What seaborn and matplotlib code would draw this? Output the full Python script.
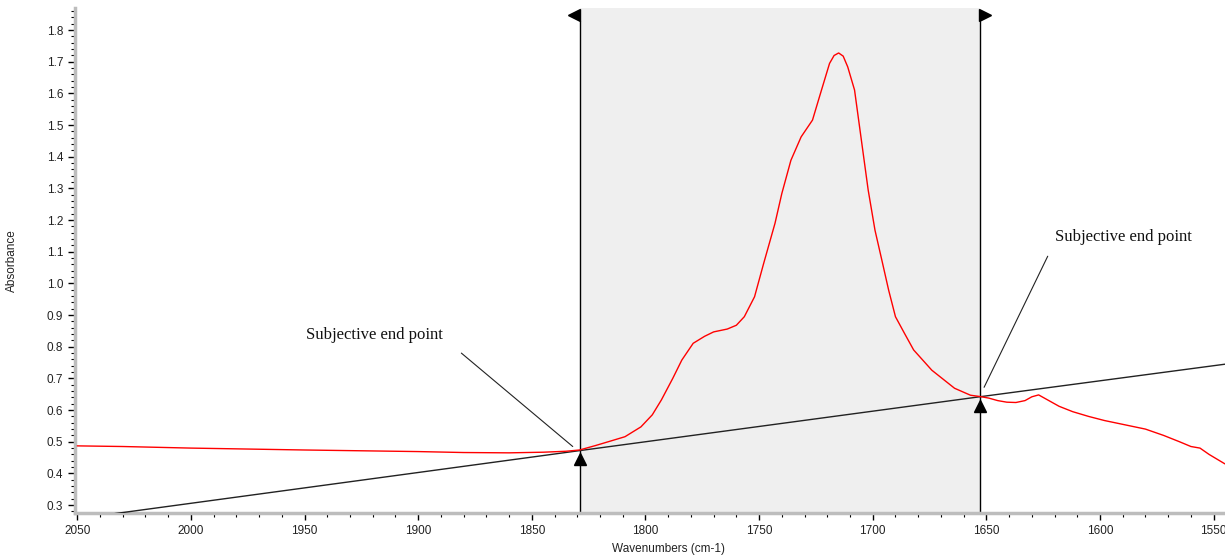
import matplotlib
matplotlib.use("Agg")
import matplotlib.pyplot as plt
from matplotlib.ticker import MultipleLocator, FormatStrFormatter
import seaborn as sns
import numpy as np
import pandas as pd

# red spectrum (wavenumber, absorbance)
wavenumber = [2050, 2030, 2000, 1950, 1900, 1880, 1860, 1845, 1835, 1829,
              1822, 1815, 1809, 1802, 1797, 1793, 1788, 1784, 1779, 1774,
              1770, 1764, 1760, 1756.5, 1752, 1748, 1743, 1740, 1736, 1731.5,
              1726.5, 1723, 1719, 1717, 1715, 1713, 1711, 1708, 1705, 1702,
              1699, 1696, 1693, 1690, 1686, 1682, 1674, 1664, 1657, 1653,
              1649, 1645, 1641, 1637, 1633, 1630, 1627, 1623, 1618,
              1612, 1605, 1598, 1590, 1580, 1572, 1565, 1560, 1556, 1552, 1545]
absorbance = [0.487, 0.485, 0.480, 0.474, 0.469, 0.466, 0.465, 0.467, 0.470, 0.474,
              0.488, 0.503, 0.516, 0.547, 0.585, 0.632, 0.700, 0.758, 0.811, 0.833,
              0.847, 0.856, 0.868, 0.895, 0.958, 1.063, 1.190, 1.284, 1.389, 1.463,
              1.516, 1.600, 1.695, 1.720, 1.728, 1.718, 1.684, 1.611, 1.453, 1.295,
              1.168, 1.074, 0.979, 0.895, 0.842, 0.790, 0.726, 0.669, 0.647, 0.643,
              0.638, 0.630, 0.625, 0.624, 0.630, 0.642, 0.648, 0.632, 0.612,
              0.595, 0.580, 0.567, 0.555, 0.540, 0.520, 0.500, 0.485, 0.480, 0.460, 0.430]

# baseline through the two end points
baseline_wn = [2050, 1829, 1653, 1545]
baseline_abs = [0.257, 0.472, 0.642, 0.745]

region = (1829, 1653)
end_points = [(1829, 0.472), (1653, 0.642)]
labels = ["Subjective end point", "Subjective end point"]
label_pos = [(1949.5, 0.837), (1620, 1.146)]
pointer_from = [(1881, 0.780), (1623, 1.086)]
pointer_to = [(1832, 0.485), (1651, 0.672)]

spec = pd.DataFrame({"wn": wavenumber, "abs": absorbance})
base = pd.DataFrame({"wn": baseline_wn, "abs": baseline_abs})

sns.set_style("white")
plt.rcParams["font.family"] = ["Liberation Sans", "DejaVu Sans"]
fig, ax = plt.subplots(figsize=(12.25, 5.56), dpi=100)
fig.subplots_adjust(left=75 / 1225, right=1.0, bottom=1 - 513 / 556, top=1 - 8 / 556)

ymin, ymax = 0.275, 1.87
ax.axvspan(region[0], region[1], color="#efefef", zorder=0, lw=0)
for xv in region:
    ax.plot([xv, xv], [ymin, 1.83], color="black", lw=1.0, zorder=2)

sns.lineplot(data=base, x="wn", y="abs", sort=False, color="#222222", lw=1.0, ax=ax, zorder=3)
sns.lineplot(data=spec, x="wn", y="abs", sort=False, color="#ff0000", lw=1.0, ax=ax, zorder=4)

# markers
ax.plot([end_points[0][0]], [end_points[0][1] - 0.027], marker="^", color="black", ms=9, zorder=5, ls="none")
ax.plot([end_points[1][0]], [end_points[1][1] - 0.030], marker="^", color="black", ms=9, zorder=5, ls="none")
ax.plot([region[0] + 2.5], [1.848], marker="<", color="black", ms=9, clip_on=False, zorder=5)
ax.plot([region[1] - 2.5], [1.848], marker=">", color="black", ms=9, clip_on=False, zorder=5)

for txt, (tx, ty), p0, p1 in zip(labels, label_pos, pointer_from, pointer_to):
    ax.text(tx, ty, txt, family="Liberation Serif", fontsize=12, va="center", ha="left", color="#111111")
    ax.plot([p0[0], p1[0]], [p0[1], p1[1]], color="#222222", lw=0.8, zorder=5)

ax.set_xlim(2051, 1545)
ax.set_ylim(ymin, ymax)
ax.xaxis.set_major_locator(MultipleLocator(50))
ax.xaxis.set_minor_locator(MultipleLocator(10))
ax.yaxis.set_major_locator(MultipleLocator(0.1))
ax.yaxis.set_minor_locator(MultipleLocator(0.02))
ax.yaxis.set_major_formatter(FormatStrFormatter("%.1f"))
ax.set_yticks(np.arange(0.3, 1.81, 0.1))

for s in ["top", "right"]:
    ax.spines[s].set_visible(False)
for s in ["left", "bottom"]:
    ax.spines[s].set_color("#bdbdbd")
    ax.spines[s].set_linewidth(2.5)
ax.tick_params(axis="both", which="major", direction="out", length=5, width=1, color="black",
               labelsize=8.5, labelcolor="#222222", left=True, bottom=True)
ax.tick_params(axis="both", which="minor", direction="out", length=3, width=0.8, color="black",
               left=True, bottom=True)

ax.set_xlabel("Wavenumbers (cm-1)", fontsize=8.5, color="#222222")
ax.set_ylabel("Absorbance", fontsize=8.5, color="#222222")
ax.xaxis.set_label_coords((668 - 75) / 1150, -30 / 505)
ax.yaxis.set_label_coords(-57 / 1150, 0.5)

fig.savefig("out.png", dpi=100)
